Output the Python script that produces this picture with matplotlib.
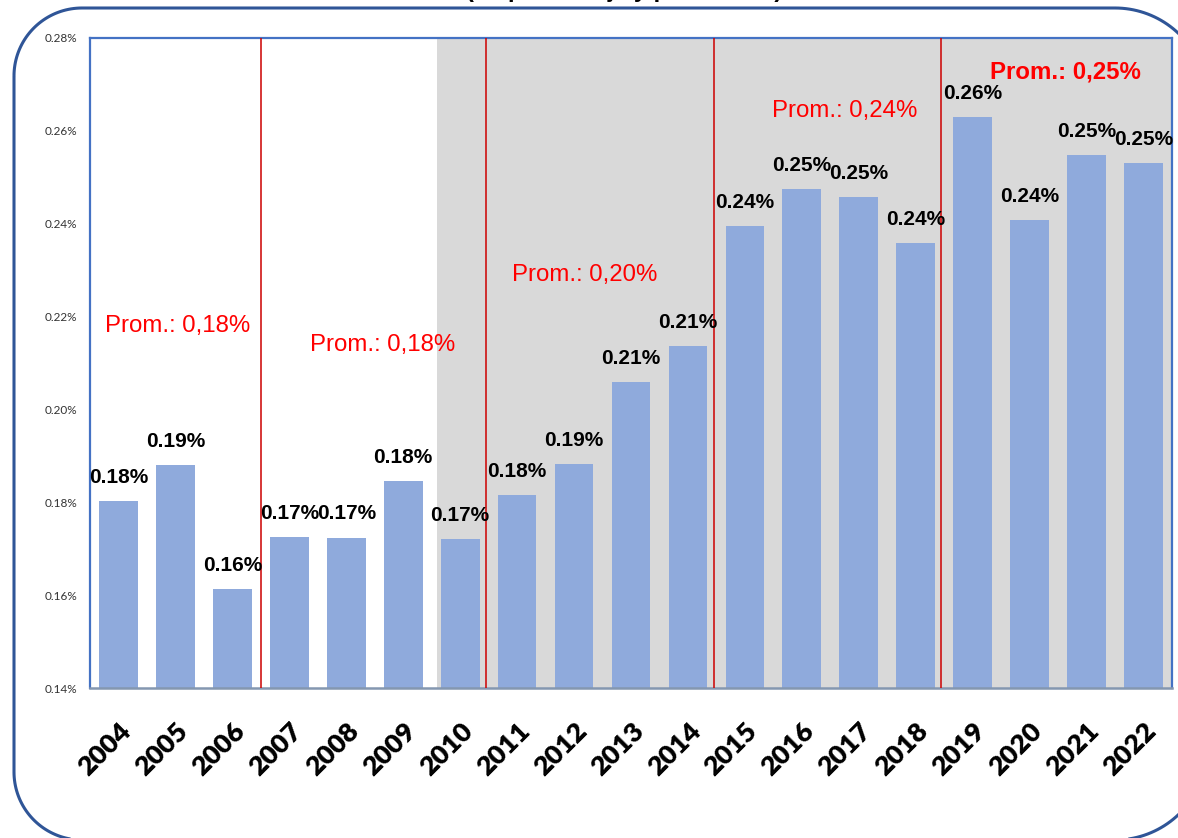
import numpy as np
import matplotlib.pyplot as plt
from matplotlib.patches import Polygon
from matplotlib.ticker import FuncFormatter

years = [str(y) for y in range(2004, 2023)]
values = [0.1803, 0.1880, 0.1613, 0.1725, 0.1724, 0.1846, 0.1721, 0.1816, 0.1882,
          0.2059, 0.2137, 0.2395, 0.2475, 0.2458, 0.2358, 0.2630, 0.2408, 0.2548, 0.2531]
bar_labels = ["0.18%", "0.19%", "0.16%", "0.17%", "0.17%", "0.18%", "0.17%", "0.18%", "0.19%",
              "0.21%", "0.21%", "0.24%", "0.25%", "0.25%", "0.24%", "0.26%", "0.24%", "0.25%", "0.25%"]

# period averages: text, x (category position), y (value)
avg_texts = ["Prom.: 0,18%", "Prom.: 0,18%", "Prom.: 0,20%", "Prom.: 0,24%", "Prom.: 0,25%"]
avg_x = [1.03, 4.63, 8.19, 12.76, 16.62]
avg_y = [0.2180, 0.2139, 0.2289, 0.2643, 0.2727]
avg_bold = [False, False, False, False, True]

period_breaks = [2.5, 6.45, 10.45, 14.45]
shade_start = 5.59

BAR = "#8FAADC"
RED = "#FF0000"
W, H = 1178, 838


def _frame_points():
    # rounded frame in pixel coords (top-down), corners with their own radii
    left, top, right, bottom = 14, 8, 1207, 840
    corners = [
        ((left + 68, top + 68), 68, 180, 270),      # top-left
        ((right - 92, top + 92), 92, 270, 360),     # top-right
        ((right - 92, bottom - 92), 92, 0, 90),     # bottom-right
        ((left + 68, bottom - 68), 68, 90, 180),    # bottom-left
    ]
    pts = []
    for (cx, cy), r, a0, a1 in corners:
        t = np.radians(np.linspace(a0, a1, 40))
        for px, py in zip(cx + r * np.cos(t), cy + r * np.sin(t)):
            pts.append((px, H - py))
    return pts


fig = plt.figure(figsize=(11.78, 8.38), dpi=100)
fig.patch.set_facecolor("white")

bg = fig.add_axes([0, 0, 1, 1])
bg.set_xlim(0, W)
bg.set_ylim(0, H)
bg.axis("off")
bg.add_patch(Polygon(_frame_points(), closed=True, fill=False,
                     edgecolor="#2F5597", lw=2.2, joinstyle="round"))

# title sits mostly above the canvas, as in the source slide
fig.text(624 / W, 1 + 3.5 / H, "(en porcentaje y promedios)", ha="center", va="baseline",
         fontsize=17, fontweight="bold", family="Liberation Sans")

ax = fig.add_axes([90 / W, 150 / H, 1082 / W, 650 / H])
x = list(range(len(years)))
ax.axvspan(shade_start, len(years) - 0.5, color="#D9D9D9", zorder=0, lw=0)
ax.bar(x, values, width=0.68, color=BAR, zorder=2)

for xb in period_breaks:
    ax.axvline(xb, color="#CC0000", lw=1.1, zorder=3)

for xi, v, lab in zip(x, values, bar_labels):
    ax.annotate(lab, (xi, v), xytext=(0, 17), textcoords="offset points",
                ha="center", va="center", fontsize=15, fontweight="bold",
                family="Liberation Sans", zorder=4)

for t, ax_x, ax_y, b in zip(avg_texts, avg_x, avg_y, avg_bold):
    ax.text(ax_x, ax_y, t, ha="center", va="center", color=RED, fontsize=17.3,
            fontweight="bold" if b else "normal", family="Liberation Sans", zorder=4)

ax.set_xlim(-0.5, len(years) - 0.5)
ax.set_ylim(0.14, 0.28)
ax.set_yticks([0.14, 0.16, 0.18, 0.20, 0.22, 0.24, 0.26, 0.28])
ax.yaxis.set_major_formatter(FuncFormatter(lambda v, p: f"{v:.2f}%"))
ax.tick_params(axis="y", length=0, pad=9, labelsize=8.5, labelcolor="#333333")
for lbl in ax.get_yticklabels():
    lbl.set_family("Lato")

ax.set_xticks(x)
ax.set_xticklabels(years, rotation=45, ha="right", rotation_mode="anchor",
                   fontsize=19.5, fontweight="heavy", family="Lato")
ax.tick_params(axis="x", length=0, pad=22)

for side in ["left", "top", "right"]:
    ax.spines[side].set_color("#4472C4")
    ax.spines[side].set_linewidth(1.6)
ax.spines["bottom"].set_color("#8497B0")
ax.spines["bottom"].set_linewidth(1.8)
ax.set_facecolor("white")

fig.savefig("out.png", dpi=100)
